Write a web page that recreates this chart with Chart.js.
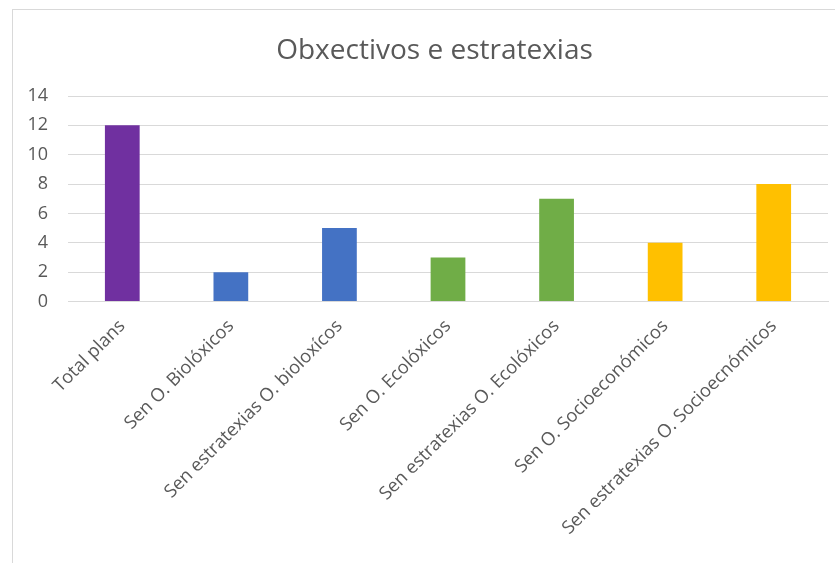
<!DOCTYPE html>
<html><head><meta charset="utf-8">
<script src="https://cdn.jsdelivr.net/npm/chart.js@4"></script>
<style>
html,body{margin:0;padding:0;background:#fff;overflow:hidden;width:835px;height:563px}
#wrap{position:absolute;left:12px;top:9px;width:843px;height:580px;border:1px solid #d9d9d9;background:#fff}
canvas{display:block}
</style></head>
<body><div id="wrap"><canvas id="c" width="843" height="580"></canvas></div>
<script>
const chartTitle = 'Obxectivos e estratexias';
const categories = ['Total plans','Sen O. Biolóxicos','Sen estratexias O. bioloxícos','Sen O. Ecolóxicos','Sen estratexias O. Ecolóxicos','Sen O. Socioeconómicos','Sen estratexias O. Socioecnómicos'];
const values = [12, 2, 5, 3, 7, 4, 8];
const barColors = ['#7030A0','#4472C4','#4472C4','#70AD47','#70AD47','#FFC000','#FFC000'];
const yMin = 0, yMax = 14, yStep = 2;

const textColor = '#595959';
const fontFamily = '"Open Sans", sans-serif';

// centre the title over the whole chart box (not just the padded layout area)
const centreTitle = {
  id: 'centreTitle',
  afterLayout(chart) {
    const t = chart.titleBlock;
    if (t) { t.left = 0; t.right = chart.width; t.width = chart.width; }
  }
};

new Chart(document.getElementById('c'), {
  type: 'bar',
  data: {
    labels: categories,
    datasets: [{ data: values, backgroundColor: barColors, borderWidth: 0, categoryPercentage: 1, barPercentage: 0.32 }]
  },
  plugins: [centreTitle],
  options: {
    responsive: false,
    animation: false,
    events: [],
    layout: { padding: { left: 0, right: 28, top: 0, bottom: 0 } },
    plugins: {
      legend: { display: false },
      tooltip: { enabled: false },
      title: {
        display: true, text: chartTitle, color: textColor,
        font: { family: fontFamily, size: 28, weight: '400', lineHeight: 1.2 },
        padding: { top: 24.2, bottom: 28.2 }
      }
    },
    scales: {
      x: {
        grid: { display: false, drawTicks: false },
        border: { display: true, color: '#d9d9d9', width: 1 },
        ticks: { color: textColor, font: { family: fontFamily, size: 18.3 }, maxRotation: 45, minRotation: 45, autoSkip: false, padding: 14 },
        afterFit: s => { s.height = 580 - 291.5; }
      },
      y: {
        min: yMin, max: yMax,
        grid: { color: '#d9d9d9', lineWidth: 1, drawTicks: false },
        border: { display: false },
        ticks: { stepSize: yStep, color: textColor, font: { family: fontFamily, size: 18 }, padding: 20 },
        afterFit: s => { s.width = 55; }
      }
    }
  }
});
</script>
</body></html>
